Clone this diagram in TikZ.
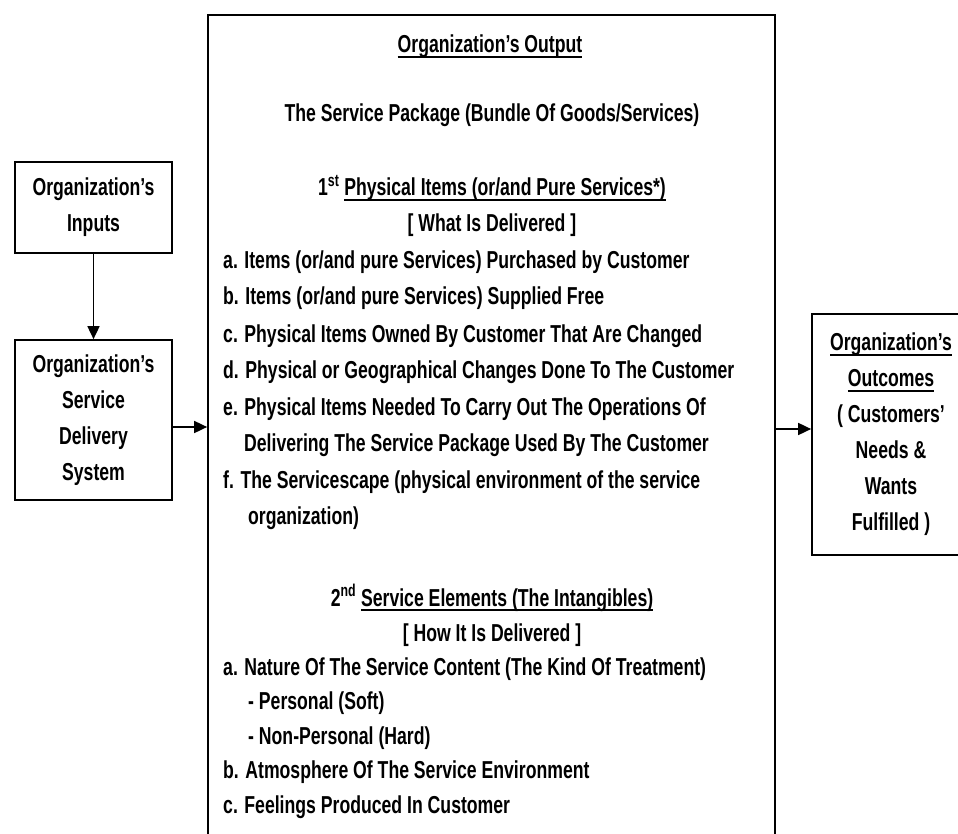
\documentclass[tikz,border=0pt]{standalone}
\usepackage{fontspec}
\setmainfont{Liberation Sans}[FakeStretch=0.72]
\usetikzlibrary{arrows.meta}
\newcommand\myul[1]{\leavevmode\setbox0=\hbox{#1}\rlap{\rule[-5pt]{\wd0}{1.7pt}}\box0}
\begin{document}
\begin{tikzpicture}[x=1pt,y=-1pt,
  sidebox/.style={draw, line width=1.7pt, align=center, inner sep=0pt,
    font=\fontsize{24.5}{36}\selectfont\bfseries},
  listline/.style={anchor=base west, inner sep=0pt,
    font=\fontsize{24.5}{36}\selectfont\bfseries},
  ctrline/.style={anchor=base, inner sep=0pt,
    font=\fontsize{24.5}{36}\selectfont\bfseries},
  arr/.style={line width=1.7pt, -{Triangle[length=13pt,width=12pt]}}]
\useasboundingbox (0,0) rectangle (958,834);
\clip (0,0) rectangle (958,834);
\fill[white] (0,0) rectangle (958,834);
% boxes
\node[sidebox, minimum width=157pt, minimum height=91pt] (inp) at (93.5,207.5)
  {Organization’s\\Inputs};
\node[sidebox, minimum width=157pt, minimum height=160pt] (sds) at (93.5,420)
  {Organization’s\\Service\\Delivery\\System};
\node[sidebox, minimum width=158pt, minimum height=241pt] (out) at (891,434.5)
  {\myul{Organization’s}\\\myul{Outcomes}\\( Customers’\\Needs \&\\Wants\\Fulfilled )};
\node[draw, line width=1.7pt, minimum width=567pt, minimum height=900pt, inner sep=0pt] (main) at (491.5,465) {};
% main box text
\node[ctrline] (t1) at (490,53) {\myul{Organization’s Output}};
\node[ctrline] (t2) at (492,122) {The Service Package (Bundle Of Goods/Services)};
\node[ctrline] (t3) at (492,196) {1\textsuperscript{st} \myul{Physical Items (or/and Pure Services*)}};
\node[ctrline] (t4) at (492,232) {[ What Is Delivered ]};
\node[listline] (l1) at (223,269) {a. Items (or/and pure Services) Purchased by Customer};
\node[listline] (l2) at (223,305) {b. Items (or/and pure Services) Supplied Free};
\node[listline] (l3) at (223,342) {c. Physical Items Owned By Customer That Are Changed};
\node[listline] (l4) at (223,378) {d. Physical or Geographical Changes Done To The Customer};
\node[listline] (l5) at (223,415) {e. Physical Items Needed To Carry Out The Operations Of};
\node[listline] (l6) at (244,451) {Delivering The Service Package Used By The Customer};
\node[listline] (l7) at (223,488) {f. The Servicescape (physical environment of the service};
\node[listline] (l8) at (248,524) {organization)};
\node[ctrline] (t5) at (492,606) {2\textsuperscript{nd} \myul{Service Elements (The Intangibles)}};
\node[ctrline] (t6) at (492,641) {[ How It Is Delivered ]};
\node[listline] (m1) at (223,675) {a. Nature Of The Service Content (The Kind Of Treatment)};
\node[listline] (m2) at (248,709) {- Personal (Soft)};
\node[listline] (m3) at (248,744) {- Non-Personal (Hard)};
\node[listline] (m4) at (223,778) {b. Atmosphere Of The Service Environment};
\node[listline] (m5) at (223,813) {c. Feelings Produced In Customer};
% arrows
\draw[arr] (inp.south) -- (sds.north);
\draw[arr] ([yshift=-7pt]sds.east) -- ([yshift=-7pt]sds.east -| main.west);
\draw[arr] ([yshift=5.5pt]out.west -| main.east) -- ([yshift=5.5pt]out.west);
\end{tikzpicture}
\end{document}
